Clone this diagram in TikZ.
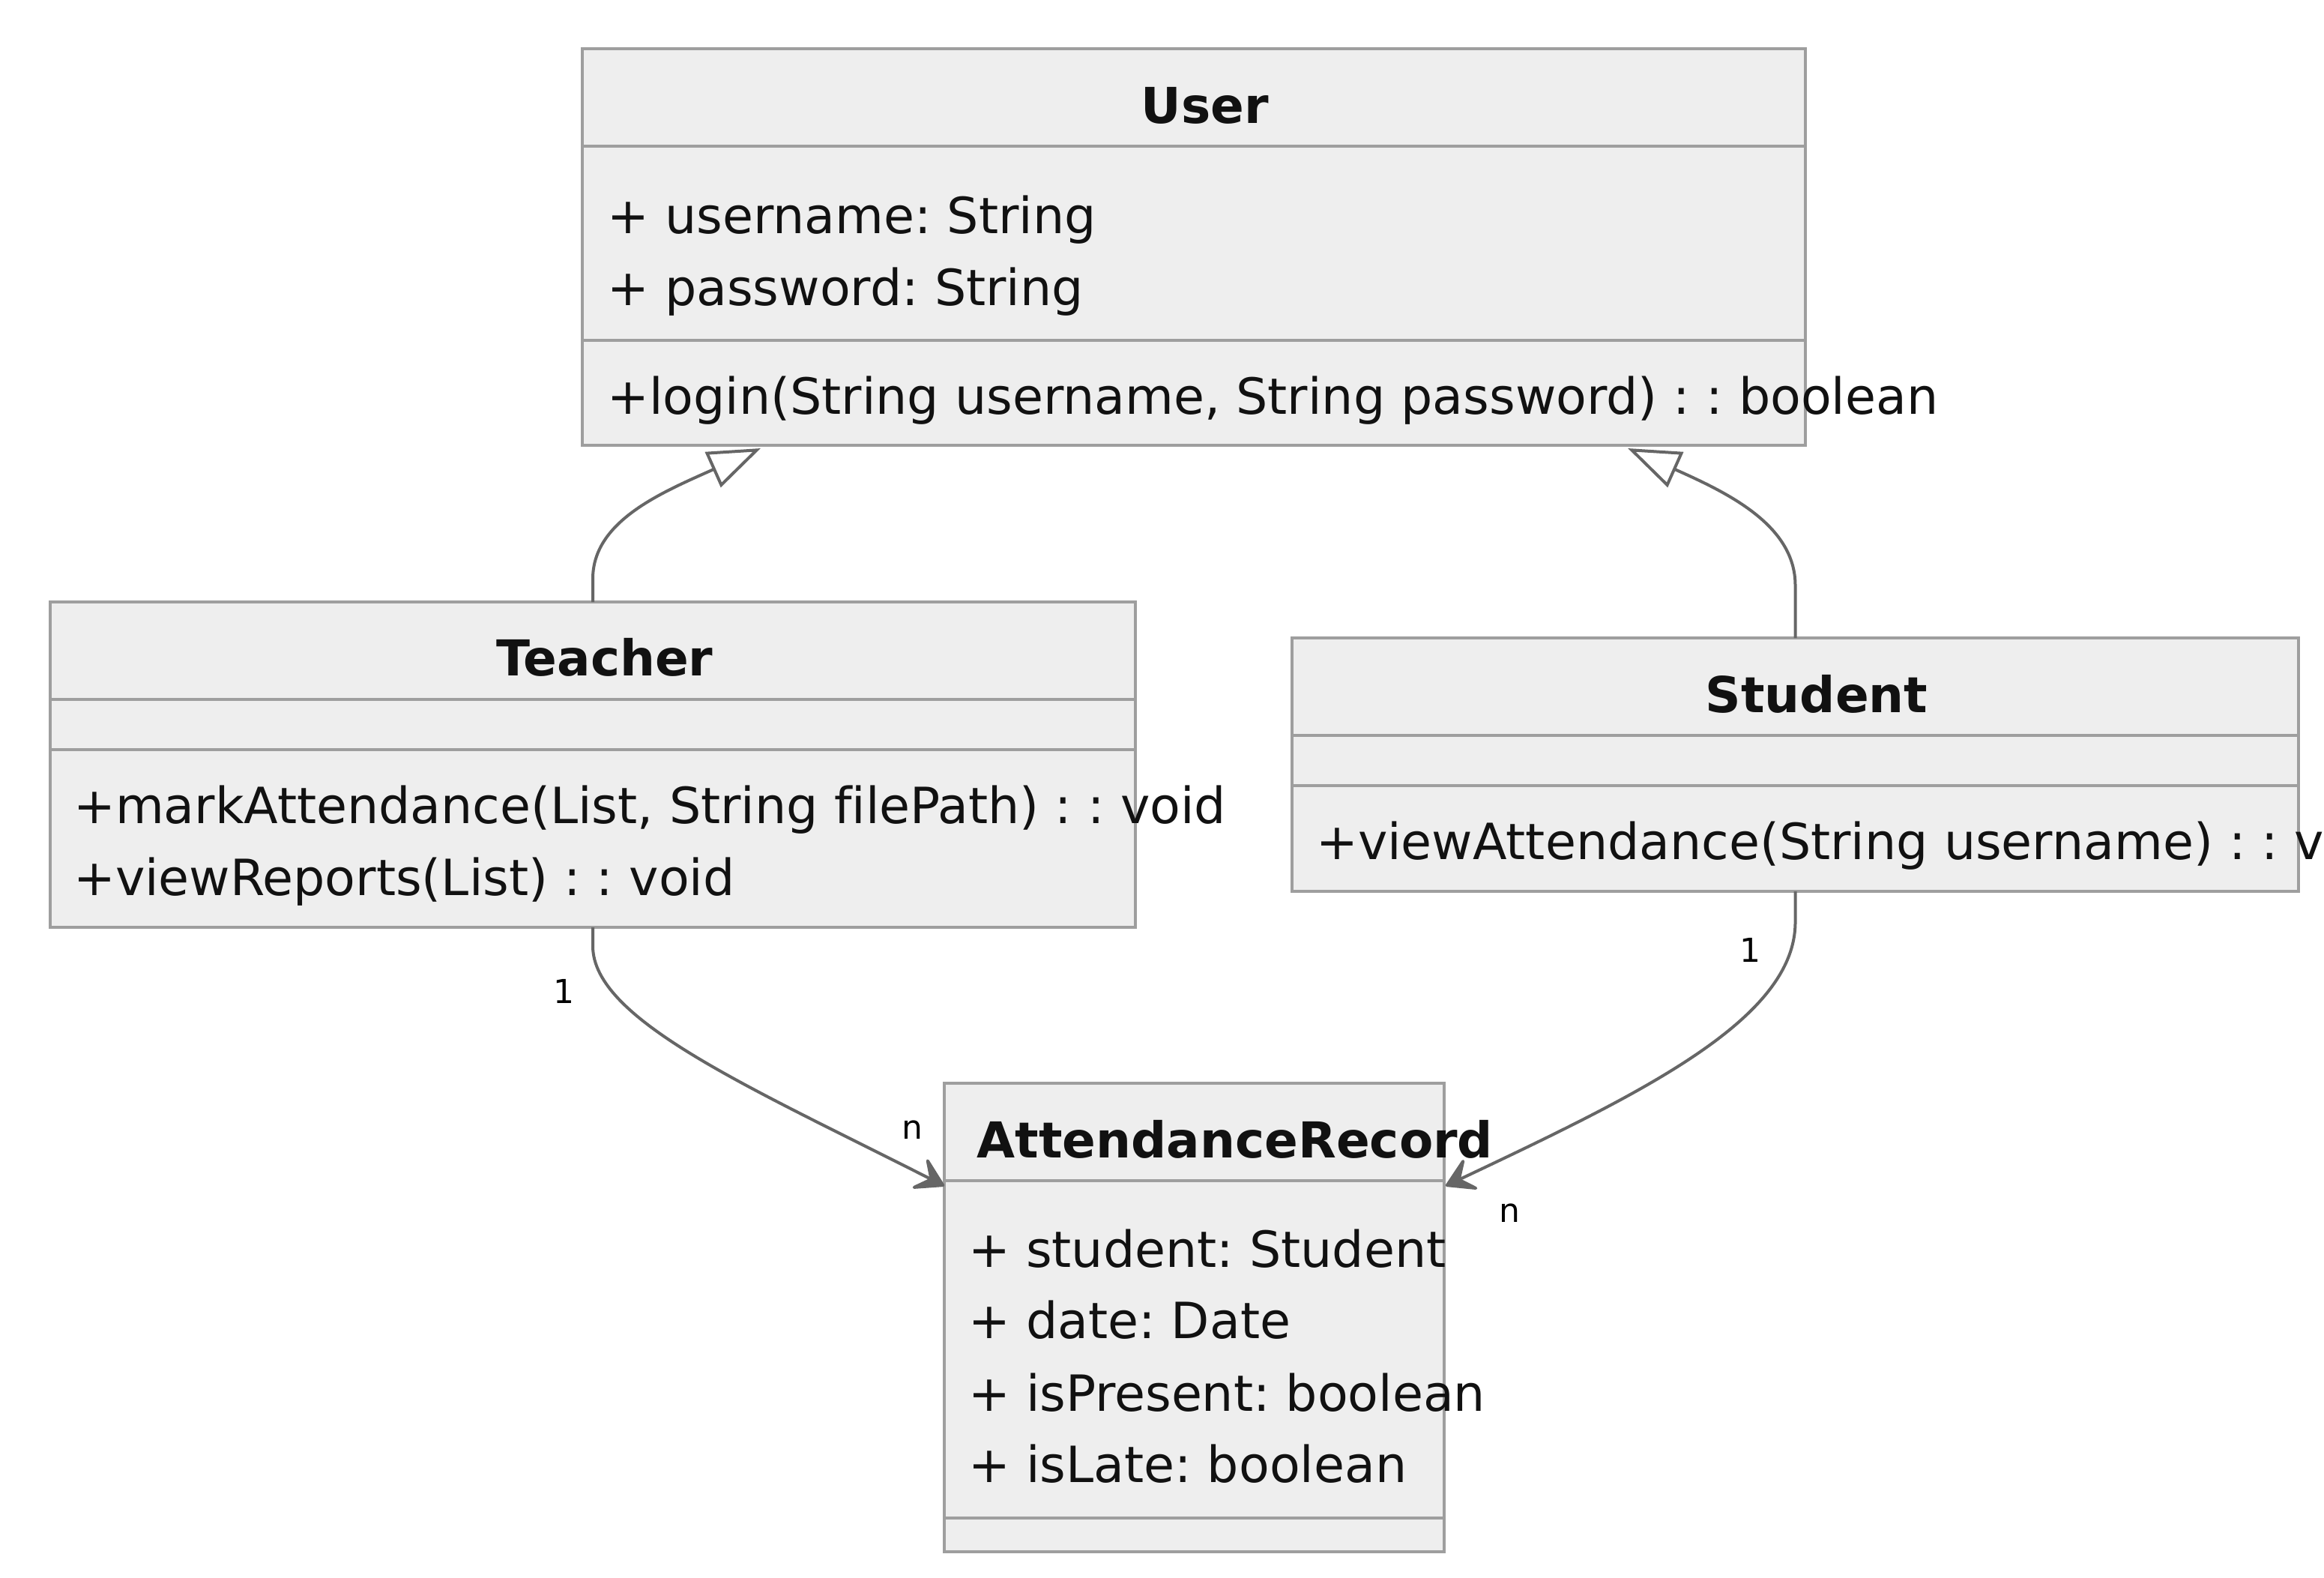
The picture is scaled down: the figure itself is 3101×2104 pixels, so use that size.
\documentclass[tikz,border=0pt]{standalone}
\usepackage{fontspec}
\setmainfont{DejaVu Sans}[Ligatures={NoCommon}]
\usetikzlibrary{arrows.meta,calc}
\definecolor{boxfill}{HTML}{EEEEEE}
\definecolor{boxline}{HTML}{9E9E9E}
\definecolor{edgecol}{HTML}{666666}
\definecolor{txt}{HTML}{111111}
\frenchspacing
\begin{document}
\begin{tikzpicture}[x=1pt,y=-1pt,
  classbox/.style={draw=boxline, fill=boxfill, line width=3.3pt, inner sep=0pt, outer sep=0pt, rectangle},
  sepline/.style={draw=boxline, line width=3.3pt},
  ttl/.style={font=\fontsize{66}{78}\selectfont\bfseries, text=txt, inner sep=0pt, anchor=base},
  mem/.style={font=\fontsize{66.6}{78}\selectfont, text=txt, inner sep=0pt, anchor=base west},
  mult/.style={font=\fontsize{44}{52}\selectfont, text=black, inner sep=0pt},
  edgeline/.style={draw=edgecol, line width=4pt},
  inherit/.style={edgeline, -{Triangle[open, length=70pt, width=51pt]}},
  assoc/.style={edgeline, -{Stealth[length=45pt, width=54pt, inset=21pt, round]}},
]
\useasboundingbox (0,0) rectangle (3101,2104);
\clip (0,0) rectangle (3101,2104);

% ---- class boxes ----
\node[classbox, minimum width=1632pt, minimum height=529pt] (user) at (1593,329.5) {};
\node[classbox, minimum width=1448pt, minimum height=434pt] (teacher) at (791,1020) {};
\node[classbox, minimum width=1343pt, minimum height=338pt] (student) at (2395.5,1020) {};
\node[classbox, minimum width=667pt, minimum height=625pt] (ar) at (1593.5,1757.5) {};

% ---- compartment separators ----
\draw[sepline] ($(user.north west)+(0,130)$) -- ($(user.north east)+(0,130)$);
\draw[sepline] ($(user.north west)+(0,389)$) -- ($(user.north east)+(0,389)$);
\draw[sepline] ($(teacher.north west)+(0,130)$) -- ($(teacher.north east)+(0,130)$);
\draw[sepline] ($(teacher.north west)+(0,197)$) -- ($(teacher.north east)+(0,197)$);
\draw[sepline] ($(student.north west)+(0,130)$) -- ($(student.north east)+(0,130)$);
\draw[sepline] ($(student.north west)+(0,197)$) -- ($(student.north east)+(0,197)$);
\draw[sepline] ($(ar.north west)+(0,130)$) -- ($(ar.north east)+(0,130)$);
\draw[sepline] ($(ar.north west)+(0,580)$) -- ($(ar.north east)+(0,580)$);

% ---- texts ----
\node[ttl] (userT) at (1608,164) {User};
\node[mem] (userA1) at (810,311) {+ username: String};
\node[mem] (userA2) at (810,407) {+ password: String};
\node[mem] (userM1) at (810,552) {+login(String username, String password) : : boolean};

\node[ttl] (teacherT) at (807,901) {Teacher};
\node[mem] (teacherM1) at (98,1098) {+markAttendance(List, String filePath) : : void};
\node[mem] (teacherM2) at (98,1194) {+viewReports(List) : : void};

\node[ttl] (studentT) at (2424,950) {Student};
\node[mem] (studentM1) at (1756,1146) {+viewAttendance(String username) : : void};

\node[ttl] (arT) at (1648,1544) {AttendanceRecord};
\node[mem] (arA1) at (1292,1690) {+ student: Student};
\node[mem] (arA2) at (1292,1785) {+ date: Date};
\node[mem] (arA3) at (1292,1882) {+ isPresent: boolean};
\node[mem] (arA4) at (1292,1977) {+ isLate: boolean};

% ---- connectors ----
\coordinate (tipTU) at ($(user.south west)+(238,4)$);
\coordinate (tipSU) at ($(user.south west)+(1395,4)$);
\coordinate (tipTA) at ($(ar.north west)+(0,137)$);
\coordinate (tipSA) at ($(ar.north east)+(2,137)$);

\draw[inherit] (teacher.north) -- ($(teacher.north)+(0,-31)$)
  .. controls ($(teacher.north)+(0,-108)$) and ($(tipTU)+(-132,59)$) .. (tipTU);
\draw[inherit] (student.north) -- ($(student.north)+(0,-70)$)
  .. controls ($(student.north)+(0,-151)$) and ($(tipSU)+(132,59)$) .. (tipSU);
\draw[assoc] (teacher.south) -- ($(teacher.south)+(0,25)$)
  .. controls ($(teacher.south)+(0,123)$) and ($(tipTA)+(-260,-132)$) .. (tipTA);
\draw[assoc] (student.south) -- ($(student.south)+(0,41)$)
  .. controls ($(student.south)+(0,171)$) and ($(tipSA)+(260,-123)$) .. (tipSA);

% ---- multiplicities ----
\node[mult] (m1) at (752,1322) {1};
\node[mult] (m2) at (1217,1507) {n};
\node[mult] (m3) at (2335,1267) {1};
\node[mult] (m4) at (2014,1618) {n};
\end{tikzpicture}
\end{document}
